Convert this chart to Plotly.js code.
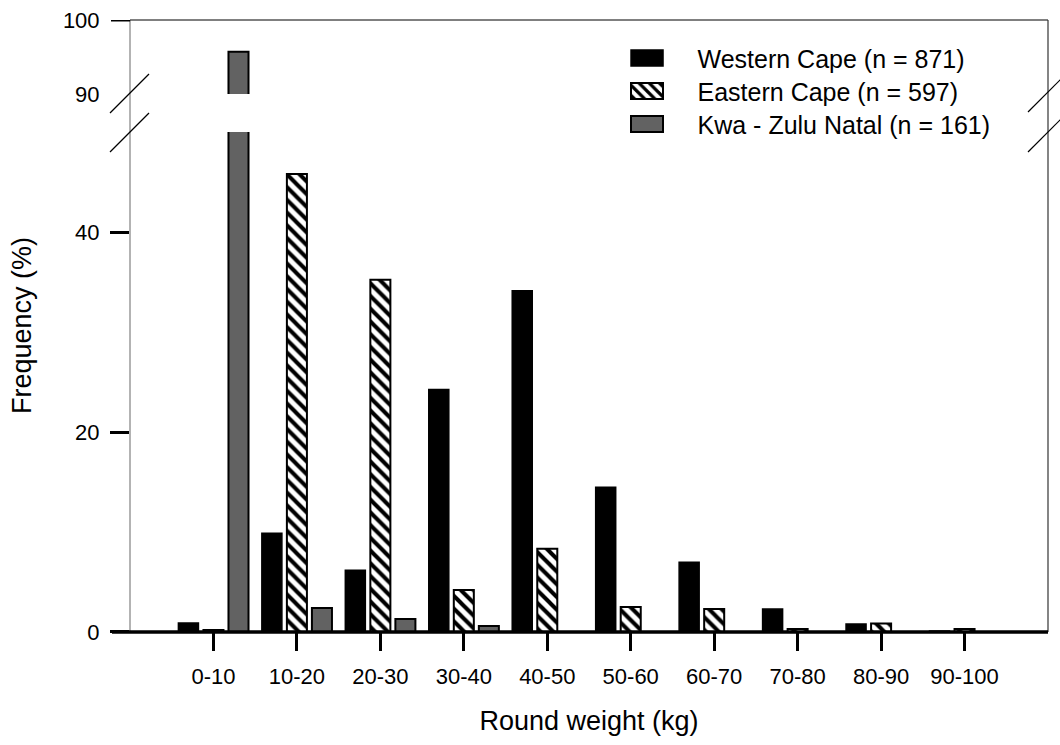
<!DOCTYPE html>
<html>
<head>
<meta charset="utf-8">
<script src="https://cdn.plot.ly/plotly-3.0.1.min.js"></script>
<style>
  html, body { margin: 0; padding: 0; background: #fff; }
  #chart { width: 1060px; height: 745px; }
</style>
</head>
<body>
<div id="chart"></div>
<script>
const categories = ['0-10', '10-20', '20-30', '30-40', '40-50', '50-60', '60-70', '70-80', '80-90', '90-100'];
const westernCape = [0.9, 9.9, 6.2, 24.3, 34.2, 14.5, 7.0, 2.3, 0.8, 0.1];
const easternCape = [0.2, 45.9, 35.3, 4.2, 8.35, 2.5, 2.3, 0.3, 0.85, 0.3];
const kwaZuluNatal = [95.7, 2.4, 1.3, 0.6, 0, 0, 0, 0, 0, 0];
const seriesNames = ['Western Cape (n = 871)', 'Eastern Cape (n = 597)', 'Kwa - Zulu Natal (n = 161)'];
const yTicksLower = [0, 20, 40];
const yTicksUpper = [90, 100];

const FONT = 'Liberation Sans, Arial, sans-serif';

function makeTraces(yaxis, showlegend) {
  return [
    {
      type: 'bar', x: categories, y: westernCape, name: seriesNames[0], yaxis: yaxis,
      showlegend: showlegend,
      marker: { color: '#000000', line: { color: '#000000', width: 1.5 } }
    },
    {
      type: 'bar', x: categories, y: easternCape, name: seriesNames[1], yaxis: yaxis,
      showlegend: showlegend,
      marker: {
        color: '#ffffff',
        line: { color: '#000000', width: 2 },
        pattern: { shape: '\\', fgcolor: '#000000', bgcolor: '#ffffff', size: 9, solidity: 0.45, fillmode: 'replace' }
      }
    },
    {
      type: 'bar', x: categories, y: kwaZuluNatal, name: seriesNames[2], yaxis: yaxis,
      showlegend: showlegend,
      marker: { color: '#626262', line: { color: '#000000', width: 2 } }
    }
  ];
}

const traces = makeTraces('y', true).concat(makeTraces('y2', false));

const PW = 918, PH = 612;
const px = v => v / PW, py = v => v / PH;

const layout = {
  width: 1060, height: 745,
  margin: { l: 130, r: 12, t: 20, b: 113 },
  paper_bgcolor: '#ffffff', plot_bgcolor: 'rgba(0,0,0,0)',
  font: { family: FONT, color: '#000000', size: 22 },
  barmode: 'group', bargap: 0.1, bargroupgap: 0.2,
  showlegend: true,
  legend: {
    x: 0.5082, y: 0.975, xanchor: 'left', yanchor: 'top',
    bgcolor: 'rgba(0,0,0,0)', borderwidth: 0,
    font: { family: FONT, size: 25, color: '#000000' },
    itemwidth: 91, tracegroupgap: 0, traceorder: 'normal',
    itemclick: false, itemdoubleclick: false
  },
  xaxis: {
    type: 'category', categoryorder: 'array', categoryarray: categories,
    range: [-1, 10], showgrid: false, zeroline: false, showline: false,
    ticks: 'outside', ticklen: 18, tickwidth: 3, tickcolor: '#000000',
    tickfont: { family: FONT, size: 22, color: '#000000' },
    ticklabelstandoff: 7,
    title: { text: 'Round weight (kg)', font: { family: FONT, size: 27, color: '#000000' }, standoff: 22 },
    automargin: false, fixedrange: true
  },
  yaxis: {
    domain: [0, 0.817], range: [0, 50.1],
    tickvals: yTicksLower, ticktext: yTicksLower.map(String),
    showgrid: false, zeroline: false, showline: false,
    ticks: 'outside', ticklen: 19, tickwidth: 3, tickcolor: '#000000',
    tickfont: { family: FONT, size: 22, color: '#000000' },
    ticklabelstandoff: 6,
    automargin: false, fixedrange: true
  },
  yaxis2: {
    domain: [0.879, 1], range: [90, 100],
    tickvals: yTicksUpper, ticktext: yTicksUpper.map(String),
    showgrid: false, zeroline: false, showline: false,
    ticks: 'outside', ticklen: 19, tickwidth: 3, tickcolor: 'rgba(0,0,0,0)',
    tickfont: { family: FONT, size: 22, color: '#000000' },
    ticklabelstandoff: 6,
    automargin: false, fixedrange: true
  },
  annotations: [
    {
      text: 'Frequency (%)', textangle: -90, showarrow: false,
      xref: 'paper', yref: 'paper', x: px(-108), y: 0.5, xanchor: 'center', yanchor: 'middle',
      font: { family: FONT, size: 27, color: '#000000' }
    }
  ],
  shapes: [
    { type: 'line', xref: 'paper', yref: 'paper', x0: 0, x1: 0, y0: 0, y1: 1, line: { color: '#808080', width: 1.2 } },
    { type: 'line', xref: 'paper', yref: 'paper', x0: 0, x1: 1, y0: 1, y1: 1, line: { color: '#000000', width: 1 } },
    { type: 'line', xref: 'paper', yref: 'paper', x0: 1, x1: 1, y0: 0, y1: 1, line: { color: '#333333', width: 1.2 } },
    { type: 'line', xref: 'paper', yref: 'paper', x0: px(-18), x1: 1, y0: 0, y1: 0, line: { color: '#000000', width: 3.5 } },
    { type: 'line', xref: 'paper', yref: 'y2', x0: px(-19), x1: 0, y0: 100, y1: 100, line: { color: '#000000', width: 3 } },
    { type: 'line', xref: 'paper', yref: 'paper', x0: px(-20), y0: py(632 - 113), x1: px(19), y1: py(632 - 74), line: { color: '#000000', width: 1.2 } },
    { type: 'line', xref: 'paper', yref: 'paper', x0: px(-20), y0: py(632 - 152), x1: px(19), y1: py(632 - 113), line: { color: '#000000', width: 1.2 } },
    { type: 'line', xref: 'paper', yref: 'paper', x0: px(898), y0: py(632 - 112), x1: px(938), y1: py(632 - 72), line: { color: '#000000', width: 1.2 } },
    { type: 'line', xref: 'paper', yref: 'paper', x0: px(898), y0: py(632 - 152), x1: px(938), y1: py(632 - 112), line: { color: '#000000', width: 1.2 } }
  ]
};

Plotly.newPlot('chart', traces, layout, { displayModeBar: false, staticPlot: true }).then(function () {
  document.querySelectorAll('.legend .legendpoints path').forEach(function (p) {
    p.setAttribute('d', 'M-16,-8H16V8H-16Z');
  });
  // tighten legend row spacing to match the reference (about 33 px per row)
  var items = Array.prototype.slice.call(document.querySelectorAll('.legend .traces'));
  var ys = items.map(function (g) {
    var m = /translate\(\s*([-\d.]+)[ ,]+([-\d.]+)\s*\)/.exec(g.getAttribute('transform') || '');
    return m ? [parseFloat(m[1]), parseFloat(m[2])] : null;
  });
  if (ys.length > 1 && ys.every(Boolean)) {
    var y0 = ys[0][1];
    items.forEach(function (g, i) {
      g.setAttribute('transform', 'translate(' + ys[i][0] + ',' + (y0 + i * 33) + ')');
    });
  }
});
</script>
</body>
</html>
